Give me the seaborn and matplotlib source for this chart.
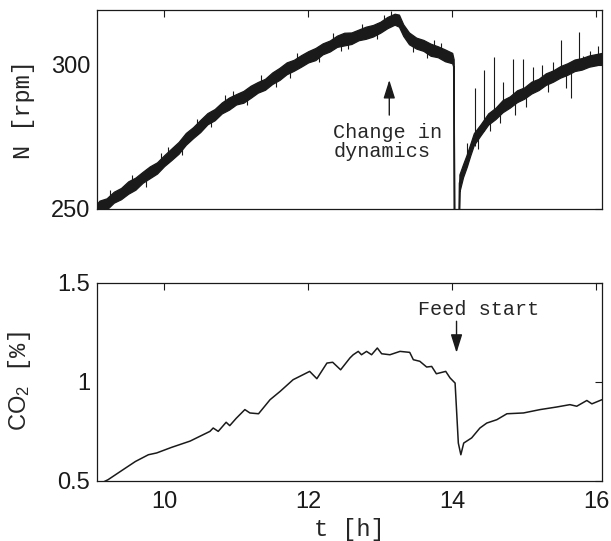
import matplotlib
matplotlib.use("Agg")
import matplotlib.pyplot as plt
import numpy as np
import pandas as pd
import seaborn as sns

# ---------------- data ----------------
# Stirrer speed N [rpm]: noisy signal given as lower / upper envelope of the noise band
t_N = [9.07, 9.1, 9.2, 9.3, 9.4, 9.5, 9.6, 9.7, 9.8, 9.9,
       10.0, 10.1, 10.2, 10.3, 10.4, 10.5, 10.6, 10.7, 10.8, 10.9,
       11.0, 11.1, 11.2, 11.3, 11.4, 11.5, 11.6, 11.7, 11.8, 11.9,
       12.0, 12.1, 12.2, 12.3, 12.4, 12.5, 12.6, 12.7, 12.8, 12.9,
       13.0, 13.1, 13.2, 13.26, 13.32, 13.4, 13.5, 13.6, 13.7, 13.8,
       13.9, 14.0, 14.02, 14.03, 14.085, 14.1, 14.15, 14.2, 14.25, 14.3,
       14.4, 14.5, 14.6, 14.7, 14.8, 14.9, 15.0, 15.1, 15.2, 15.3,
       15.4, 15.5, 15.6, 15.7, 15.8, 15.9, 16.0, 16.08]
N_lo = [248.2, 248.9, 249.8, 252.2, 253.4, 255.3, 256.7, 259.1, 260.7, 262.3,
        264.9, 267.0, 269.2, 272.3, 274.6, 276.7, 279.4, 280.8, 283.2, 284.5,
        286.3, 286.9, 288.6, 290.4, 291.4, 293.4, 294.8, 296.8, 298.0, 299.4,
        300.9, 301.7, 303.7, 304.7, 306.3, 306.8, 307.3, 308.6, 309.1, 309.9,
        311.2, 312.8, 314.0, 313.3, 310.1, 307.2, 305.7, 304.9, 303.2, 302.7,
        301.3, 300.6, 299.0, 230.0, 230.0, 256.0, 261.0, 264.5, 268.5, 272.2,
        275.8, 279.3, 281.2, 283.6, 285.2, 287.1, 288.3, 290.1, 291.3, 293.1,
        294.2, 295.6, 296.6, 297.9, 298.4, 299.4, 299.9, 300.4]
N_hi = [252.0, 252.9, 253.7, 256.0, 257.3, 259.6, 260.9, 262.9, 264.8, 266.2,
        268.7, 271.0, 273.3, 276.4, 278.4, 280.9, 283.3, 284.7, 287.0, 288.7,
        289.9, 291.0, 292.8, 294.1, 295.2, 297.4, 299.0, 300.9, 301.8, 303.4,
        304.8, 305.9, 307.5, 308.5, 310.2, 311.2, 311.3, 312.3, 313.3, 313.9,
        315.0, 316.7, 317.8, 317.5, 314.1, 311.3, 309.5, 308.7, 307.4, 306.5,
        305.4, 304.2, 302.0, 230.0, 230.0, 262.0, 265.5, 268.8, 272.5, 276.3,
        279.6, 283.2, 285.1, 287.8, 289.1, 291.2, 292.2, 294.2, 295.2, 297.1,
        298.1, 299.6, 300.6, 301.9, 302.4, 303.3, 303.8, 304.2]

# isolated spikes of the noisy N signal
spike_t = [9.25, 9.55, 9.75, 9.95, 10.05, 10.25, 10.45, 10.65, 10.85, 10.95,
           11.15, 11.35, 11.55, 11.75, 11.85, 12.15, 12.35, 12.45, 12.55, 12.75,
           12.95, 13.05, 13.15, 13.45, 13.65, 13.75, 13.85,
           14.2, 14.316, 14.36, 14.44, 14.52, 14.58, 14.66, 14.71, 14.84, 14.87,
           14.98, 15.03, 15.12, 15.25, 15.33, 15.4, 15.51, 15.58, 15.645, 15.76,
           15.82, 15.92, 16.02]
spike_lo = [251.2, 256.5, 257.8, 264.0, 266.0, 268.8, 276.0, 278.3, 284.0, 285.5,
            286.2, 291.0, 292.5, 295.5, 299.0, 301.0, 306.0, 304.8, 305.5, 309.0,
            309.0, 312.0, 313.5, 304.5, 302.5, 303.5, 302.0,
            265.0, 272.0, 271.0, 277.0, 277.0, 282.0, 280.0, 284.5, 286.5, 282.6,
            288.5, 285.5, 291.0, 292.5, 290.5, 295.0, 296.5, 292.0, 288.5, 299.5,
            298.5, 300.5, 301.0]
spike_hi = [256.5, 261.8, 263.0, 269.3, 271.5, 274.0, 281.3, 284.0, 289.5, 291.0,
            291.5, 296.5, 298.0, 301.0, 304.2, 306.5, 311.0, 310.0, 311.0, 314.3,
            314.5, 317.4, 318.6, 310.0, 307.5, 308.7, 307.5,
            273.0, 292.0, 278.0, 298.3, 283.0, 302.8, 286.0, 294.0, 302.0, 289.0,
            302.0, 292.0, 299.3, 300.0, 296.0, 301.0, 308.7, 299.0, 299.0, 311.5,
            303.0, 305.0, 306.5]

# CO2 [%]
t_co2 = [9.07, 9.22, 9.43, 9.6, 9.78, 9.895, 10.1, 10.36, 10.5, 10.635,
         10.68, 10.75, 10.86, 10.91, 11.0, 11.12, 11.19, 11.31, 11.47, 11.61,
         11.79, 11.9, 12.02, 12.12, 12.26, 12.34, 12.45, 12.58, 12.625, 12.695,
         12.74, 12.81, 12.88, 12.96, 13.02, 13.135, 13.275, 13.41, 13.46, 13.55,
         13.645, 13.715, 13.78, 13.91, 13.97, 14.04, 14.06, 14.085, 14.12, 14.16,
         14.27, 14.385, 14.48, 14.62, 14.76, 14.99, 15.22, 15.45, 15.635, 15.73,
         15.87, 15.94, 16.08]
co2 = [0.478, 0.505, 0.556, 0.597, 0.631, 0.640, 0.668, 0.700, 0.725, 0.749,
       0.766, 0.749, 0.795, 0.778, 0.815, 0.859, 0.842, 0.838, 0.909, 0.951,
       1.010, 1.030, 1.052, 1.015, 1.094, 1.098, 1.060, 1.120, 1.136, 1.153,
       1.136, 1.153, 1.136, 1.170, 1.141, 1.136, 1.153, 1.148, 1.111, 1.103,
       1.074, 1.077, 1.040, 1.052, 1.019, 0.993, 0.859, 0.690, 0.631, 0.690,
       0.716, 0.766, 0.791, 0.808, 0.838, 0.842, 0.859, 0.872, 0.884, 0.876,
       0.905, 0.888, 0.909]

x_ticks = [10, 12, 14, 16]
N_ticks = [250, 300]
co2_ticks = [0.5, 1, 1.5]
co2_ticklabels = ["0.5", "1", "1.5"]

# ---------------- style ----------------
sns.set_theme(style="white")
plt.rcParams["font.family"] = ["Liberation Sans", "DejaVu Sans"]
plt.rcParams["mathtext.fontset"] = "custom"
plt.rcParams["mathtext.sf"] = "Liberation Sans"
plt.rcParams["mathtext.rm"] = "Liberation Mono"
MONO = ["Liberation Mono", "DejaVu Sans Mono"]
ARROW = "-|>,head_length=0.7,head_width=0.22"

fig = plt.figure(figsize=(6.11, 5.41), dpi=100)
ax1 = fig.add_axes([0.1592, 0.6137, 0.8260, 0.3673])
ax2 = fig.add_axes([0.1592, 0.1115, 0.8260, 0.3660])

# ---------------- top: N ----------------
df_N = pd.DataFrame({"t": t_N + t_N, "N": N_lo + N_hi})
sns.lineplot(data=df_N, x="t", y="N", ax=ax1, color="k", linewidth=1.0,
             estimator="mean", errorbar=("pi", 100),
             err_kws={"alpha": 1, "linewidth": 0.9, "edgecolor": "k",
                      "facecolor": "k"})
ax1.vlines(spike_t, spike_lo, spike_hi, colors="k", linewidth=0.8)

ax1.set_xlim(9.07, 16.08)
ax1.set_ylim(250, 319)
ax1.set_xticks(x_ticks)
ax1.set_yticks(N_ticks)
ax1.tick_params(labelbottom=False)
ax1.set_xlabel("")
ax1.set_ylabel("N [rpm]", family=MONO, fontsize=17)
ax1.yaxis.set_label_coords(-0.123, 0.5)

ax1.annotate("", xy=(13.126, 294.8), xytext=(13.126, 282.6),
             arrowprops=dict(arrowstyle=ARROW, color="k", lw=1.0,
                             mutation_scale=16, shrinkA=0, shrinkB=0))
ax1.text(12.35, 280.0, "Change in\ndynamics", family=MONO, fontsize=14.5,
         ha="left", va="top", linespacing=1.0)

# ---------------- bottom: CO2 ----------------
sns.lineplot(x=t_co2, y=co2, ax=ax2, color="k", linewidth=1.1)
ax2.set_xlim(9.07, 16.08)
ax2.set_ylim(0.5, 1.5)
ax2.set_xticks(x_ticks)
ax2.set_yticks(co2_ticks)
ax2.set_yticklabels(co2_ticklabels)
ax2.set_xlabel("t [h]", family=MONO, fontsize=17)
ax2.xaxis.set_label_coords(0.5, -0.19)
ax2.set_ylabel(r"$\mathsf{CO_2}$ [%]", family=MONO, fontsize=17)
ax2.yaxis.set_label_coords(-0.127, 0.5)

ax2.annotate("", xy=(14.06, 1.146), xytext=(14.06, 1.305),
             arrowprops=dict(arrowstyle=ARROW, color="k", lw=1.0,
                             mutation_scale=16, shrinkA=0, shrinkB=0))
ax2.text(14.37, 1.363, "Feed start", family=MONO, fontsize=14.5,
         ha="center", va="center")

for ax in (ax1, ax2):
    for s in ax.spines.values():
        s.set_visible(True)
        s.set_color("k")
        s.set_linewidth(0.9)
    ax.tick_params(direction="in", top=True, right=True, length=5, width=0.8,
                   colors="k", labelsize=17)
    ax.tick_params(axis="x", pad=7.5)
    ax.tick_params(axis="y", pad=5)
    for lbl in ax.get_xticklabels() + ax.get_yticklabels():
        lbl.set_family(["Liberation Sans", "DejaVu Sans"])

fig.savefig("out.png", dpi=100)
